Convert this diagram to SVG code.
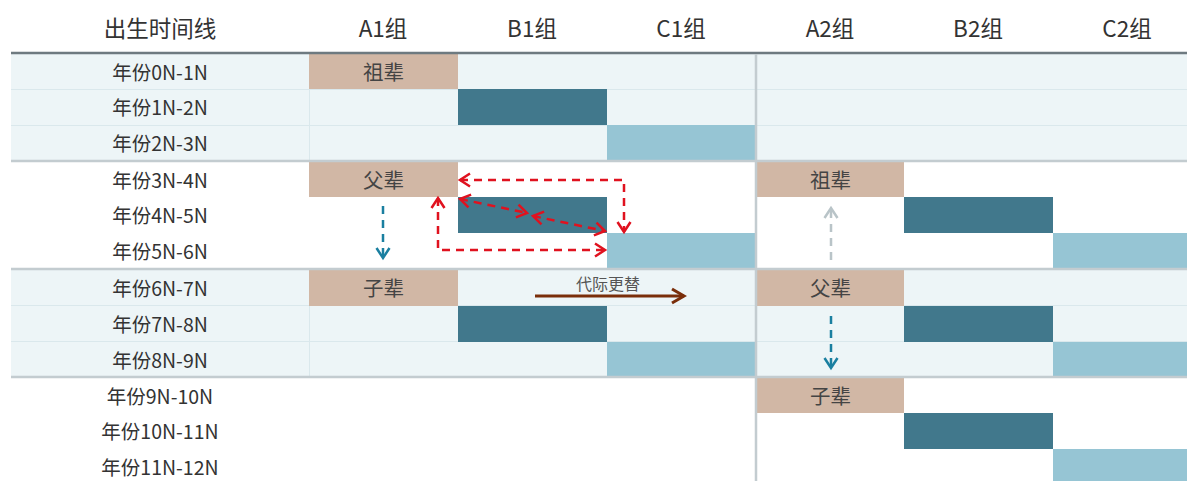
<svg xmlns="http://www.w3.org/2000/svg" width="1187" height="481" viewBox="0 0 1187 481">
<style>
text{font-family:"Noto Sans CJK SC","Noto Sans",sans-serif;text-anchor:middle;dominant-baseline:central;fill:#333}
.hd{font-size:22.5px}
.rl{font-size:19.5px}
.cl{font-size:20.5px;fill:#444}
.lb{font-size:16px;fill:#555}
.bg{fill:#edf5f7}
.tan{fill:#d1b7a5}
.dk{fill:#41788c}
.lt{fill:#96c5d4}
.fl{stroke:#dae8ec;stroke-width:1}
.sep{stroke:#c3ccd0;stroke-width:2.5}
.red{fill:none;stroke:#e0121f;stroke-width:2.5;stroke-dasharray:8 6}
</style>
<defs>
<marker id="mr" markerUnits="userSpaceOnUse" markerWidth="16" markerHeight="18" refX="13" refY="9" orient="auto-start-reverse"><path d="M3,2.5 L13,9 L3,15.5" fill="none" stroke="#e0121f" stroke-width="2.5"/></marker>
<marker id="mb" markerUnits="userSpaceOnUse" markerWidth="16" markerHeight="18" refX="13" refY="9" orient="auto"><path d="M3,2.5 L13,9 L3,15.5" fill="none" stroke="#1a7fa0" stroke-width="2.5"/></marker>
<marker id="mg" markerUnits="userSpaceOnUse" markerWidth="16" markerHeight="18" refX="13" refY="9" orient="auto"><path d="M3,2.5 L13,9 L3,15.5" fill="none" stroke="#b9c4c8" stroke-width="2.5"/></marker>
<marker id="mw" markerUnits="userSpaceOnUse" markerWidth="18" markerHeight="20" refX="15" refY="10" orient="auto"><path d="M3,3 L15,10 L3,17" fill="none" stroke="#7a2e0a" stroke-width="3"/></marker>
</defs>
<rect width="1187" height="481" fill="#fff"/>
<g id="backgrounds">
<rect class="bg" x="11" y="54" width="1176" height="107"/>
<rect class="bg" x="11" y="270" width="1176" height="107"/>
<line class="fl" x1="11" y1="89.5" x2="1187" y2="89.5"/>
<line class="fl" x1="11" y1="125.5" x2="1187" y2="125.5"/>
<line class="fl" x1="11" y1="305.5" x2="1187" y2="305.5"/>
<line class="fl" x1="11" y1="341.5" x2="1187" y2="341.5"/>
<line class="fl" x1="309.5" y1="54" x2="309.5" y2="161"/>
<line class="fl" x1="309.5" y1="270" x2="309.5" y2="377"/>
</g>
<g id="header">
<text class="hd" x="160" y="27">出生时间线</text>
<text class="hd" x="383" y="27">A1组</text>
<text class="hd" x="532" y="27">B1组</text>
<text class="hd" x="681" y="27">C1组</text>
<text class="hd" x="830" y="27">A2组</text>
<text class="hd" x="978" y="27">B2组</text>
<text class="hd" x="1127" y="27">C2组</text>
</g>
<g id="row-labels">
<text class="rl" x="160" y="71">年份0N-1N</text>
<text class="rl" x="160" y="106">年份1N-2N</text>
<text class="rl" x="160" y="142">年份2N-3N</text>
<text class="rl" x="160" y="179">年份3N-4N</text>
<text class="rl" x="160" y="214">年份4N-5N</text>
<text class="rl" x="160" y="250">年份5N-6N</text>
<text class="rl" x="160" y="287">年份6N-7N</text>
<text class="rl" x="160" y="323">年份7N-8N</text>
<text class="rl" x="160" y="359">年份8N-9N</text>
<text class="rl" x="160" y="395">年份9N-10N</text>
<text class="rl" x="160" y="430">年份10N-11N</text>
<text class="rl" x="160" y="466">年份11N-12N</text>
</g>
<g id="group1-gen1">
<rect class="tan" x="309" y="54" width="149" height="35"/>
<text class="cl" x="383.5" y="71">祖辈</text>
<rect class="dk" x="458" y="89" width="149" height="36"/>
<rect class="lt" x="607" y="125" width="148" height="36"/>
</g>
<g id="group1-gen2">
<rect class="tan" x="309" y="162" width="149" height="35"/>
<text class="cl" x="383.5" y="179">父辈</text>
<rect class="dk" x="458" y="197" width="149" height="36"/>
<rect class="lt" x="607" y="233" width="148" height="36"/>
</g>
<g id="group1-gen3">
<rect class="tan" x="309" y="270" width="149" height="36"/>
<text class="cl" x="383.5" y="287">子辈</text>
<rect class="dk" x="458" y="306" width="149" height="36"/>
<rect class="lt" x="607" y="342" width="148" height="35"/>
</g>
<g id="group2-gen1">
<rect class="tan" x="757" y="162" width="147" height="35"/>
<text class="cl" x="830.5" y="179">祖辈</text>
<rect class="dk" x="904" y="197" width="149" height="36"/>
<rect class="lt" x="1053" y="233" width="134" height="36"/>
</g>
<g id="group2-gen2">
<rect class="tan" x="757" y="270" width="147" height="36"/>
<text class="cl" x="830.5" y="287">父辈</text>
<rect class="dk" x="904" y="306" width="149" height="36"/>
<rect class="lt" x="1053" y="342" width="134" height="35"/>
</g>
<g id="group2-gen3">
<rect class="tan" x="757" y="378" width="147" height="35"/>
<text class="cl" x="830.5" y="395">子辈</text>
<rect class="dk" x="904" y="413" width="149" height="36"/>
<rect class="lt" x="1053" y="449" width="134" height="36"/>
</g>
<g id="grid">
<line x1="11" y1="53" x2="1187" y2="53" stroke="#6e7a80" stroke-width="2.5"/>
<line class="sep" x1="11" y1="161" x2="1187" y2="161"/>
<line class="sep" x1="11" y1="269" x2="1187" y2="269"/>
<line class="sep" x1="11" y1="377" x2="1187" y2="377"/>
<line class="sep" x1="756" y1="54" x2="756" y2="481"/>
</g>
<g id="connectors">
<path class="red" d="M460,180 H624 V232" marker-start="url(#mr)" marker-end="url(#mr)"/>
<path class="red" d="M438,198 V250 H605" marker-start="url(#mr)" marker-end="url(#mr)"/>
<path class="red" d="M460,199 L527,213" marker-start="url(#mr)" marker-end="url(#mr)"/>
<path class="red" d="M533,216 L605,231" marker-start="url(#mr)" marker-end="url(#mr)"/>
<path d="M383,206 V258" fill="none" stroke="#1a7fa0" stroke-width="2.5" stroke-dasharray="8 6" marker-end="url(#mb)"/>
<path d="M831,260 V208" fill="none" stroke="#b9c4c8" stroke-width="2.5" stroke-dasharray="8 6" marker-end="url(#mg)"/>
<path d="M831,316 V368" fill="none" stroke="#1a7fa0" stroke-width="2.5" stroke-dasharray="8 6" marker-end="url(#mb)"/>
<path d="M535,296 H684" fill="none" stroke="#7a2e0a" stroke-width="3" marker-end="url(#mw)"/>
<text class="lb" x="608" y="283">代际更替</text>
</g>
</svg>
